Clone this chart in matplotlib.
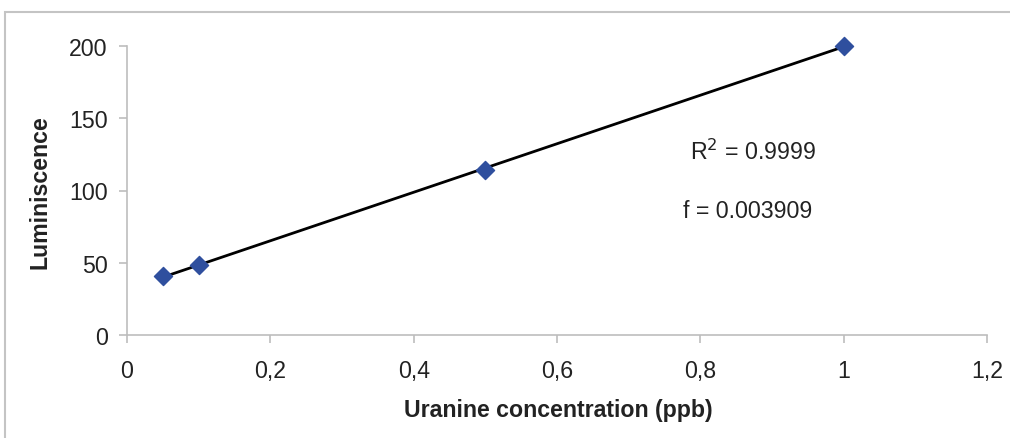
import matplotlib
matplotlib.use("Agg")
import matplotlib.pyplot as plt
import numpy as np
from matplotlib.patches import Rectangle

conc = [0.05, 0.1, 0.5, 1.0]
lum = [40.5, 48.5, 114.5, 200.0]
xticks = [0, 0.2, 0.4, 0.6, 0.8, 1.0, 1.2]
xticklabels = ["0", "0,2", "0,4", "0,6", "0,8", "1", "1,2"]
yticks = [0, 50, 100, 150, 200]

plt.rcParams['font.family'] = ['Liberation Sans', 'DejaVu Sans']

fig = plt.figure(figsize=(10.10, 4.39), dpi=100)
fig.patches.append(Rectangle((5/1010, -0.1), 1.2, (439-13)/439 + 0.1,
                             transform=fig.transFigure, fill=False,
                             edgecolor='#c4c4c4', linewidth=1.5))
ax = fig.add_axes([127/1010, (439-336)/439, (987-127)/1010, (336-47)/439])

slope, intercept = np.polyfit(conc, lum, 1)
xs = np.array([min(conc), max(conc)])
ax.plot(xs, slope*xs + intercept, color='black', linewidth=2, zorder=2, clip_on=False)
ax.scatter(conc, lum, marker='D', s=85, color='#2f4f9e', edgecolor='#2f4f9e',
           zorder=3, clip_on=False)

ax.set_xlim(0, 1.2)
ax.set_ylim(0, 200)
ax.set_xticks(xticks)
ax.set_xticklabels(xticklabels)
ax.set_yticks(yticks)
for s in ['top', 'right']:
    ax.spines[s].set_visible(False)
for s in ['left', 'bottom']:
    ax.spines[s].set_color('#bdbdbd')
    ax.spines[s].set_linewidth(1.2)
ax.tick_params(axis='both', colors='#bdbdbd', length=6, width=1.2, labelsize=16.7,
               labelcolor='#222222', direction='out')
ax.tick_params(axis='x', pad=11)
ax.tick_params(axis='y', pad=8)

ax.set_xlabel("Uranine concentration (ppb)", fontsize=16.7, fontweight='bold',
              color='#222222', va='center')
ax.set_ylabel("Luminiscence", fontsize=16.7, fontweight='bold', color='#222222', va='center')
ax.xaxis.set_label_coords((558-127)/860, (336-411)/289)
ax.yaxis.set_label_coords((40-127)/860, 0.5 + (191-191.5)/289)

ax.text(0.7855, 127.3, r"R$^{2}$ = 0.9999", fontsize=16.7, color='#222222', ha='left', va='center')
ax.text(0.7758, 86.5, "f = 0.003909", fontsize=16.7, color='#222222', ha='left', va='center')

fig.savefig("out.png", dpi=100, facecolor='white')
